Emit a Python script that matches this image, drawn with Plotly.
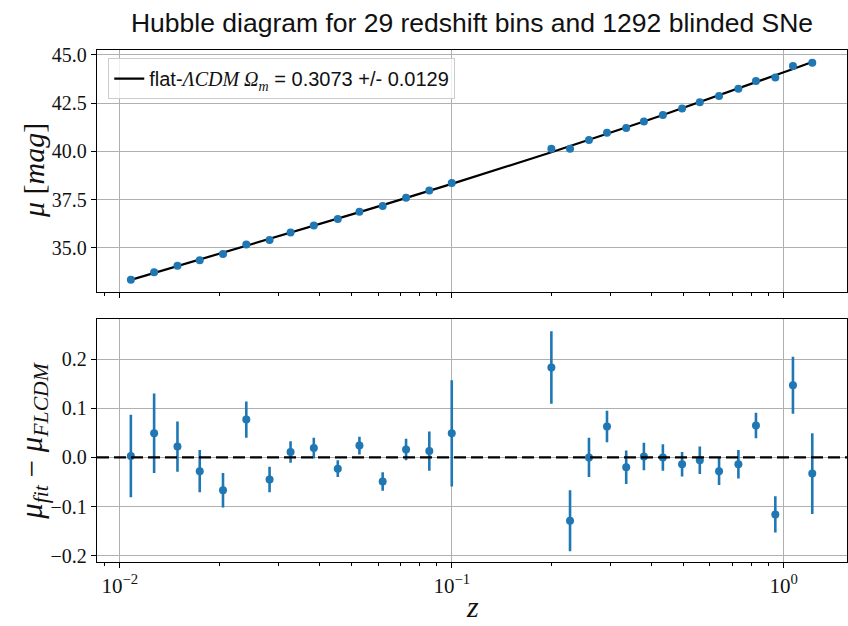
import plotly.graph_objects as go

# ---- data ----
z = [0.01079, 0.01268, 0.01491, 0.01740, 0.02045, 0.02404, 0.02825, 0.03268,
     0.03840, 0.04535, 0.05270, 0.06192, 0.07283, 0.08558, 0.1000,
     0.1996, 0.2272, 0.2591, 0.2936, 0.3355, 0.3793, 0.4327, 0.4944,
     0.5590, 0.6389, 0.7307, 0.8254, 0.9441, 1.067, 1.220]

mu_model = [33.341, 33.695, 34.050, 34.389, 34.745, 35.102, 35.459, 35.783,
            36.142, 36.514, 36.852, 37.216, 37.585, 37.954, 38.313,
            39.949, 40.265, 40.588, 40.898, 41.233, 41.544, 41.882, 42.227,
            42.547, 42.898, 43.254, 43.578, 43.937, 44.265, 44.624]

mu_obs = [33.344, 33.744, 34.072, 34.361, 34.678, 35.179, 35.414, 35.794,
          36.161, 36.491, 36.876, 37.167, 37.601, 37.967, 38.362,
          40.132, 40.136, 40.588, 40.961, 41.213, 41.546, 41.882, 42.213,
          42.541, 42.870, 43.240, 43.643, 43.821, 44.412, 44.591]

resid = [0.003, 0.049, 0.022, -0.028, -0.067, 0.077, -0.045, 0.011,
         0.019, -0.023, 0.024, -0.049, 0.016, 0.013, 0.049,
         0.183, -0.129, 0.000, 0.063, -0.020, 0.002, 0.000, -0.014,
         -0.006, -0.028, -0.014, 0.065, -0.116, 0.147, -0.033]

resid_err = [0.084, 0.081, 0.051, 0.043, 0.035, 0.037, 0.026, 0.022,
             0.021, 0.017, 0.018, 0.019, 0.022, 0.040, 0.108,
             0.074, 0.062, 0.040, 0.032, 0.034, 0.028, 0.027, 0.025,
             0.028, 0.028, 0.029, 0.026, 0.037, 0.058, 0.082]

x_tickvals = [0.01, 0.1, 1]
x_ticktext = ["10<sup>\u22122</sup>", "10<sup>\u22121</sup>", "10<sup>0</sup>"]
x_minor = [0.009, 0.02, 0.03, 0.04, 0.05, 0.06, 0.07, 0.08, 0.09,
           0.2, 0.3, 0.4, 0.5, 0.6, 0.7, 0.8, 0.9]
top_yticks = [35.0, 37.5, 40.0, 42.5, 45.0]
top_yticktext = ["35.0", "37.5", "40.0", "42.5", "45.0"]
bot_yticks = [-0.2, -0.1, 0.0, 0.1, 0.2]
bot_yticktext = ["\u22120.2", "\u22120.1", "0.0", "0.1", "0.2"]

BLUE = "#1f77b4"
SERIF = "Liberation Serif"
SANS = "Liberation Sans"

fig = go.Figure()

fig.add_trace(go.Scatter(
    x=z, y=mu_model, mode="lines", line=dict(color="black", width=2.2),
    name=("flat-<span style='font-family:Liberation Serif'><i>\u039bCDM \u03a9<sub>m</sub></i></span>"
          " = 0.3073 +/- 0.0129"),
    xaxis="x", yaxis="y", showlegend=True))

fig.add_trace(go.Scatter(
    x=z, y=mu_obs, mode="markers", marker=dict(color=BLUE, size=8),
    xaxis="x", yaxis="y", showlegend=False))

fig.add_trace(go.Scatter(
    x=z, y=resid, mode="markers", marker=dict(color=BLUE, size=8),
    error_y=dict(type="data", array=resid_err, color=BLUE, thickness=2.6, width=0),
    xaxis="x2", yaxis="y2", showlegend=False))

fig.add_shape(type="line", xref="x2 domain", x0=0, x1=1, yref="y2", y0=0, y1=0,
              line=dict(color="black", width=2.4, dash="12px,5px"))

xrange = [-2.069, 0.191]
common_x = dict(type="log", range=xrange, showline=True, mirror=True,
                linecolor="black", linewidth=1.3, ticks="outside", ticklen=5,
                tickwidth=1.2, tickcolor="black", showgrid=True,
                gridcolor="#b0b0b0", gridwidth=1, zeroline=False,
                tickmode="array", tickvals=x_tickvals, ticktext=x_ticktext,
                tickfont=dict(family=SERIF, size=21, color="#111"),
                minor=dict(tickmode="array", tickvals=x_minor, ticks="outside",
                           ticklen=3, tickwidth=1, tickcolor="black", showgrid=False),
                domain=[0, 1])
common_y = dict(showline=True, mirror=True, linecolor="black", linewidth=1.3,
                ticks="outside", ticklen=5, tickwidth=1.2, tickcolor="black",
                showgrid=True, gridcolor="#b0b0b0", gridwidth=1, zeroline=False,
                tickmode="array",
                tickfont=dict(family=SERIF, size=20, color="#111"))

fig.update_layout(
    width=848, height=626,
    margin=dict(l=97, r=1, t=0, b=0),
    plot_bgcolor="white", paper_bgcolor="white",
    xaxis=dict(**common_x, anchor="y", showticklabels=False),
    xaxis2=dict(**common_x, anchor="y2", matches="x"),
    yaxis=dict(**common_y, domain=[0.5351, 0.9292], range=[32.72, 45.27],
               tickvals=top_yticks, ticktext=top_yticktext, anchor="x"),
    yaxis2=dict(**common_y, domain=[0.0963, 0.4904], range=[-0.2125, 0.281],
                tickvals=bot_yticks, ticktext=bot_yticktext, anchor="x2"),
    title=dict(text="Hubble diagram for 29 redshift bins and 1292 blinded SNe",
               x=0.5566, xanchor="center", y=0.963, yanchor="middle",
               xref="container", yref="container",
               font=dict(family=SANS, size=26.5, color="#111")),
    legend=dict(x=0.015, y=0.9292 - 0.014, xref="paper", yref="paper",
                xanchor="left", yanchor="top",
                bgcolor="rgba(255,255,255,0.8)", bordercolor="#cccccc", borderwidth=1,
                font=dict(family=SANS, size=20, color="#111")),
    showlegend=True,
)

fig.add_annotation(text="<i>\u03bc</i> [<i>mag</i>]", xref="paper", yref="paper",
                   x=-0.085, y=(0.5351 + 0.9292) / 2, textangle=-90, showarrow=False,
                   xanchor="center", yanchor="middle",
                   font=dict(family=SERIF, size=30, color="#111"))
fig.add_annotation(text="<i>\u03bc<sub>fit</sub></i> \u2212 <i>\u03bc<sub>FLCDM</sub></i>",
                   xref="paper", yref="paper",
                   x=-0.085, y=(0.0963 + 0.4904) / 2, textangle=-90, showarrow=False,
                   xanchor="center", yanchor="middle",
                   font=dict(family=SERIF, size=31, color="#111"))
fig.add_annotation(text="<i>z</i>", xref="paper", yref="paper",
                   x=0.5, y=0.024, showarrow=False, xanchor="center", yanchor="middle",
                   font=dict(family=SERIF, size=30, color="#111"))

fig.write_html("out.html")
